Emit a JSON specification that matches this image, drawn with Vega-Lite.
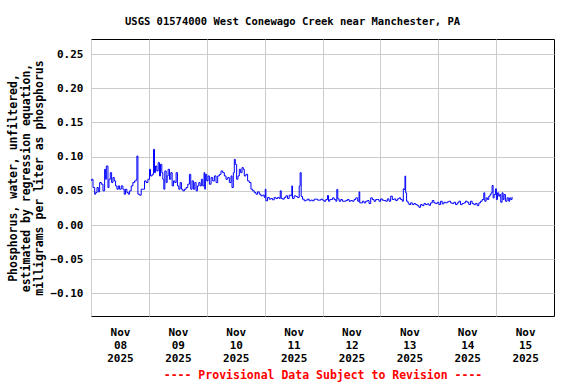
{
  "$schema": "https://vega.github.io/schema/vega-lite/v6.json",
  "width": 463,
  "height": 277,
  "autosize": {"type": "none"},
  "padding": {"left": 91, "top": 39, "right": 22, "bottom": 68},
  "background": "white",
  "title": {
    "text": "USGS 01574000 West Conewago Creek near Manchester, PA",
    "font": "DejaVu Sans Mono",
    "fontSize": 10.5,
    "fontWeight": "bold",
    "color": "black",
    "anchor": "middle",
    "dx": -30,
    "offset": 12
  },
  "config": {
    "view": {"stroke": "black", "strokeWidth": 1},
    "axis": {
      "labelFont": "DejaVu Sans Mono",
      "labelFontWeight": "bold",
      "labelFontSize": 11,
      "labelColor": "black",
      "titleFont": "DejaVu Sans Mono",
      "titleFontWeight": "bold",
      "titleFontSize": 11.5,
      "titleColor": "black",
      "gridColor": "#cccccc",
      "gridWidth": 1,
      "gridOpacity": 1,
      "domain": false,
      "ticks": false
    }
  },
  "data": {
    "values": [
      {"t": "2025-11-08T00:00", "v": 0.065},
      {"t": "2025-11-08T00:17", "v": 0.0669},
      {"t": "2025-11-08T00:50", "v": 0.0548},
      {"t": "2025-11-08T01:31", "v": 0.0451},
      {"t": "2025-11-08T01:56", "v": 0.0475},
      {"t": "2025-11-08T02:29", "v": 0.0548},
      {"t": "2025-11-08T03:02", "v": 0.0485},
      {"t": "2025-11-08T03:35", "v": 0.0621},
      {"t": "2025-11-08T04:16", "v": 0.0597},
      {"t": "2025-11-08T04:58", "v": 0.05},
      {"t": "2025-11-08T05:39", "v": 0.0815},
      {"t": "2025-11-08T06:04", "v": 0.0669},
      {"t": "2025-11-08T06:21", "v": 0.0863},
      {"t": "2025-11-08T07:02", "v": 0.0548},
      {"t": "2025-11-08T07:27", "v": 0.0669},
      {"t": "2025-11-08T08:00", "v": 0.0766},
      {"t": "2025-11-08T08:33", "v": 0.0621},
      {"t": "2025-11-08T09:06", "v": 0.0694},
      {"t": "2025-11-08T09:39", "v": 0.0645},
      {"t": "2025-11-08T10:12", "v": 0.0572},
      {"t": "2025-11-08T10:45", "v": 0.0524},
      {"t": "2025-11-08T11:18", "v": 0.0572},
      {"t": "2025-11-08T11:51", "v": 0.0524},
      {"t": "2025-11-08T12:33", "v": 0.0572},
      {"t": "2025-11-08T13:14", "v": 0.0524},
      {"t": "2025-11-08T13:47", "v": 0.0451},
      {"t": "2025-11-08T14:20", "v": 0.0524},
      {"t": "2025-11-08T14:53", "v": 0.0475},
      {"t": "2025-11-08T15:27", "v": 0.0451},
      {"t": "2025-11-08T16:00", "v": 0.05},
      {"t": "2025-11-08T16:41", "v": 0.0572},
      {"t": "2025-11-08T17:22", "v": 0.0621},
      {"t": "2025-11-08T18:04", "v": 0.0645},
      {"t": "2025-11-08T18:45", "v": 0.0669},
      {"t": "2025-11-08T19:02", "v": 0.1009},
      {"t": "2025-11-08T19:27", "v": 0.0451},
      {"t": "2025-11-08T20:08", "v": 0.0437},
      {"t": "2025-11-08T20:49", "v": 0.0524},
      {"t": "2025-11-08T21:31", "v": 0.0524},
      {"t": "2025-11-08T22:12", "v": 0.0645},
      {"t": "2025-11-08T22:53", "v": 0.0621},
      {"t": "2025-11-08T23:35", "v": 0.0669},
      {"t": "2025-11-09T00:16", "v": 0.0815},
      {"t": "2025-11-09T00:41", "v": 0.0718},
      {"t": "2025-11-09T01:22", "v": 0.0742},
      {"t": "2025-11-09T01:56", "v": 0.1106},
      {"t": "2025-11-09T02:20", "v": 0.0766},
      {"t": "2025-11-09T02:45", "v": 0.0863},
      {"t": "2025-11-09T03:18", "v": 0.0791},
      {"t": "2025-11-09T03:51", "v": 0.0912},
      {"t": "2025-11-09T04:24", "v": 0.0718},
      {"t": "2025-11-09T04:49", "v": 0.0888},
      {"t": "2025-11-09T05:22", "v": 0.0766},
      {"t": "2025-11-09T05:47", "v": 0.0669},
      {"t": "2025-11-09T06:12", "v": 0.0524},
      {"t": "2025-11-09T06:37", "v": 0.0791},
      {"t": "2025-11-09T07:10", "v": 0.0621},
      {"t": "2025-11-09T07:35", "v": 0.0718},
      {"t": "2025-11-09T07:59", "v": 0.0815},
      {"t": "2025-11-09T08:33", "v": 0.0669},
      {"t": "2025-11-09T09:06", "v": 0.0766},
      {"t": "2025-11-09T09:39", "v": 0.0572},
      {"t": "2025-11-09T10:12", "v": 0.0645},
      {"t": "2025-11-09T10:45", "v": 0.0621},
      {"t": "2025-11-09T11:18", "v": 0.0766},
      {"t": "2025-11-09T11:51", "v": 0.0572},
      {"t": "2025-11-09T12:24", "v": 0.0524},
      {"t": "2025-11-09T12:57", "v": 0.0621},
      {"t": "2025-11-09T13:30", "v": 0.0524},
      {"t": "2025-11-09T14:04", "v": 0.05},
      {"t": "2025-11-09T14:45", "v": 0.0524},
      {"t": "2025-11-09T15:26", "v": 0.0548},
      {"t": "2025-11-09T16:08", "v": 0.0597},
      {"t": "2025-11-09T16:49", "v": 0.0742},
      {"t": "2025-11-09T17:22", "v": 0.0524},
      {"t": "2025-11-09T17:55", "v": 0.0645},
      {"t": "2025-11-09T18:28", "v": 0.0524},
      {"t": "2025-11-09T19:02", "v": 0.0621},
      {"t": "2025-11-09T19:35", "v": 0.05},
      {"t": "2025-11-09T20:08", "v": 0.0572},
      {"t": "2025-11-09T20:41", "v": 0.0621},
      {"t": "2025-11-09T21:14", "v": 0.0572},
      {"t": "2025-11-09T21:47", "v": 0.0669},
      {"t": "2025-11-09T22:20", "v": 0.0572},
      {"t": "2025-11-09T22:53", "v": 0.0766},
      {"t": "2025-11-09T23:10", "v": 0.0524},
      {"t": "2025-11-09T23:26", "v": 0.0742},
      {"t": "2025-11-09T23:59", "v": 0.0645},
      {"t": "2025-11-10T00:32", "v": 0.0718},
      {"t": "2025-11-10T01:05", "v": 0.0597},
      {"t": "2025-11-10T01:47", "v": 0.0694},
      {"t": "2025-11-10T02:28", "v": 0.0645},
      {"t": "2025-11-10T03:10", "v": 0.0718},
      {"t": "2025-11-10T03:51", "v": 0.0621},
      {"t": "2025-11-10T04:32", "v": 0.0718},
      {"t": "2025-11-10T05:14", "v": 0.0742},
      {"t": "2025-11-10T05:55", "v": 0.0791},
      {"t": "2025-11-10T06:37", "v": 0.0766},
      {"t": "2025-11-10T07:18", "v": 0.0718},
      {"t": "2025-11-10T07:59", "v": 0.0669},
      {"t": "2025-11-10T08:41", "v": 0.0694},
      {"t": "2025-11-10T09:22", "v": 0.0621},
      {"t": "2025-11-10T10:04", "v": 0.0718},
      {"t": "2025-11-10T10:28", "v": 0.0548},
      {"t": "2025-11-10T11:01", "v": 0.0766},
      {"t": "2025-11-10T11:26", "v": 0.096},
      {"t": "2025-11-10T11:51", "v": 0.0888},
      {"t": "2025-11-10T12:24", "v": 0.0669},
      {"t": "2025-11-10T12:57", "v": 0.0718},
      {"t": "2025-11-10T13:30", "v": 0.0815},
      {"t": "2025-11-10T14:03", "v": 0.0766},
      {"t": "2025-11-10T14:37", "v": 0.0839},
      {"t": "2025-11-10T15:10", "v": 0.0815},
      {"t": "2025-11-10T15:34", "v": 0.0718},
      {"t": "2025-11-10T16:16", "v": 0.0742},
      {"t": "2025-11-10T16:57", "v": 0.0645},
      {"t": "2025-11-10T17:38", "v": 0.0621},
      {"t": "2025-11-10T18:20", "v": 0.0524},
      {"t": "2025-11-10T19:01", "v": 0.05},
      {"t": "2025-11-10T19:43", "v": 0.0475},
      {"t": "2025-11-10T20:24", "v": 0.0451},
      {"t": "2025-11-10T21:05", "v": 0.0485},
      {"t": "2025-11-10T21:47", "v": 0.0451},
      {"t": "2025-11-10T22:28", "v": 0.0427},
      {"t": "2025-11-10T23:10", "v": 0.0437},
      {"t": "2025-11-10T23:51", "v": 0.0403},
      {"t": "2025-11-11T00:16", "v": 0.0524},
      {"t": "2025-11-11T00:32", "v": 0.0354},
      {"t": "2025-11-11T01:13", "v": 0.0403},
      {"t": "2025-11-11T01:55", "v": 0.0378},
      {"t": "2025-11-11T02:36", "v": 0.0388},
      {"t": "2025-11-11T03:17", "v": 0.0369},
      {"t": "2025-11-11T03:59", "v": 0.0403},
      {"t": "2025-11-11T04:40", "v": 0.0388},
      {"t": "2025-11-11T05:22", "v": 0.0403},
      {"t": "2025-11-11T06:03", "v": 0.0388},
      {"t": "2025-11-11T06:28", "v": 0.05},
      {"t": "2025-11-11T06:53", "v": 0.0388},
      {"t": "2025-11-11T07:26", "v": 0.0378},
      {"t": "2025-11-11T08:07", "v": 0.0403},
      {"t": "2025-11-11T08:49", "v": 0.0427},
      {"t": "2025-11-11T09:30", "v": 0.0388},
      {"t": "2025-11-11T10:11", "v": 0.0437},
      {"t": "2025-11-11T10:53", "v": 0.0427},
      {"t": "2025-11-11T11:17", "v": 0.0572},
      {"t": "2025-11-11T11:34", "v": 0.0388},
      {"t": "2025-11-11T12:15", "v": 0.0427},
      {"t": "2025-11-11T12:57", "v": 0.0417},
      {"t": "2025-11-11T13:38", "v": 0.0403},
      {"t": "2025-11-11T14:20", "v": 0.0572},
      {"t": "2025-11-11T14:44", "v": 0.0766},
      {"t": "2025-11-11T15:09", "v": 0.0417},
      {"t": "2025-11-11T15:42", "v": 0.0378},
      {"t": "2025-11-11T16:24", "v": 0.0354},
      {"t": "2025-11-11T17:05", "v": 0.0364},
      {"t": "2025-11-11T17:46", "v": 0.0378},
      {"t": "2025-11-11T18:28", "v": 0.0354},
      {"t": "2025-11-11T19:09", "v": 0.0364},
      {"t": "2025-11-11T19:51", "v": 0.0354},
      {"t": "2025-11-11T20:32", "v": 0.0378},
      {"t": "2025-11-11T21:13", "v": 0.0378},
      {"t": "2025-11-11T21:55", "v": 0.0364},
      {"t": "2025-11-11T22:36", "v": 0.0364},
      {"t": "2025-11-11T23:18", "v": 0.0378},
      {"t": "2025-11-11T23:59", "v": 0.0364},
      {"t": "2025-11-12T00:41", "v": 0.0348},
      {"t": "2025-11-12T01:23", "v": 0.0373},
      {"t": "2025-11-12T02:04", "v": 0.0431},
      {"t": "2025-11-12T02:29", "v": 0.0348},
      {"t": "2025-11-12T03:02", "v": 0.0373},
      {"t": "2025-11-12T03:35", "v": 0.0373},
      {"t": "2025-11-12T04:08", "v": 0.0397},
      {"t": "2025-11-12T04:50", "v": 0.0373},
      {"t": "2025-11-12T05:31", "v": 0.0348},
      {"t": "2025-11-12T05:56", "v": 0.052},
      {"t": "2025-11-12T06:20", "v": 0.0382},
      {"t": "2025-11-12T06:54", "v": 0.0348},
      {"t": "2025-11-12T07:35", "v": 0.0373},
      {"t": "2025-11-12T08:16", "v": 0.0348},
      {"t": "2025-11-12T08:58", "v": 0.0348},
      {"t": "2025-11-12T09:39", "v": 0.0358},
      {"t": "2025-11-12T10:20", "v": 0.0373},
      {"t": "2025-11-12T11:02", "v": 0.0348},
      {"t": "2025-11-12T11:43", "v": 0.0358},
      {"t": "2025-11-12T12:25", "v": 0.0348},
      {"t": "2025-11-12T13:06", "v": 0.0373},
      {"t": "2025-11-12T13:47", "v": 0.0397},
      {"t": "2025-11-12T14:37", "v": 0.0348},
      {"t": "2025-11-12T15:10", "v": 0.0485},
      {"t": "2025-11-12T15:27", "v": 0.0324},
      {"t": "2025-11-12T16:00", "v": 0.0324},
      {"t": "2025-11-12T16:33", "v": 0.0348},
      {"t": "2025-11-12T17:14", "v": 0.0324},
      {"t": "2025-11-12T17:56", "v": 0.0348},
      {"t": "2025-11-12T18:37", "v": 0.0358},
      {"t": "2025-11-12T19:18", "v": 0.0314},
      {"t": "2025-11-12T20:00", "v": 0.0397},
      {"t": "2025-11-12T20:41", "v": 0.0373},
      {"t": "2025-11-12T21:22", "v": 0.0348},
      {"t": "2025-11-12T22:04", "v": 0.0373},
      {"t": "2025-11-12T22:45", "v": 0.0373},
      {"t": "2025-11-12T23:26", "v": 0.0348},
      {"t": "2025-11-13T00:08", "v": 0.0382},
      {"t": "2025-11-13T00:49", "v": 0.0363},
      {"t": "2025-11-13T01:31", "v": 0.0358},
      {"t": "2025-11-13T02:12", "v": 0.0348},
      {"t": "2025-11-13T02:53", "v": 0.0382},
      {"t": "2025-11-13T03:35", "v": 0.0348},
      {"t": "2025-11-13T04:16", "v": 0.0422},
      {"t": "2025-11-13T04:58", "v": 0.0373},
      {"t": "2025-11-13T05:39", "v": 0.0382},
      {"t": "2025-11-13T06:20", "v": 0.0358},
      {"t": "2025-11-13T07:02", "v": 0.0382},
      {"t": "2025-11-13T07:43", "v": 0.0397},
      {"t": "2025-11-13T08:25", "v": 0.0373},
      {"t": "2025-11-13T09:06", "v": 0.0348},
      {"t": "2025-11-13T09:31", "v": 0.0529},
      {"t": "2025-11-13T09:55", "v": 0.052},
      {"t": "2025-11-13T10:12", "v": 0.0716},
      {"t": "2025-11-13T10:29", "v": 0.0471},
      {"t": "2025-11-13T10:53", "v": 0.0348},
      {"t": "2025-11-13T11:26", "v": 0.0324},
      {"t": "2025-11-13T11:51", "v": 0.0299},
      {"t": "2025-11-13T12:32", "v": 0.0324},
      {"t": "2025-11-13T13:14", "v": 0.0299},
      {"t": "2025-11-13T13:55", "v": 0.0314},
      {"t": "2025-11-13T14:37", "v": 0.0299},
      {"t": "2025-11-13T15:18", "v": 0.0284},
      {"t": "2025-11-13T15:59", "v": 0.026},
      {"t": "2025-11-13T16:41", "v": 0.0299},
      {"t": "2025-11-13T17:22", "v": 0.0284},
      {"t": "2025-11-13T18:04", "v": 0.0314},
      {"t": "2025-11-13T18:45", "v": 0.0299},
      {"t": "2025-11-13T19:26", "v": 0.0309},
      {"t": "2025-11-13T20:08", "v": 0.0289},
      {"t": "2025-11-13T20:49", "v": 0.0324},
      {"t": "2025-11-13T21:31", "v": 0.0358},
      {"t": "2025-11-13T22:12", "v": 0.0324},
      {"t": "2025-11-13T22:53", "v": 0.0314},
      {"t": "2025-11-13T23:35", "v": 0.0333},
      {"t": "2025-11-14T00:16", "v": 0.0299},
      {"t": "2025-11-14T00:58", "v": 0.0348},
      {"t": "2025-11-14T01:39", "v": 0.0309},
      {"t": "2025-11-14T02:20", "v": 0.0333},
      {"t": "2025-11-14T03:02", "v": 0.0324},
      {"t": "2025-11-14T03:43", "v": 0.0338},
      {"t": "2025-11-14T04:25", "v": 0.0348},
      {"t": "2025-11-14T05:06", "v": 0.0324},
      {"t": "2025-11-14T05:47", "v": 0.0314},
      {"t": "2025-11-14T06:28", "v": 0.0333},
      {"t": "2025-11-14T07:10", "v": 0.0299},
      {"t": "2025-11-14T07:51", "v": 0.0324},
      {"t": "2025-11-14T08:32", "v": 0.0348},
      {"t": "2025-11-14T09:14", "v": 0.0299},
      {"t": "2025-11-14T09:55", "v": 0.0314},
      {"t": "2025-11-14T10:37", "v": 0.0324},
      {"t": "2025-11-14T11:18", "v": 0.0348},
      {"t": "2025-11-14T11:59", "v": 0.0333},
      {"t": "2025-11-14T12:41", "v": 0.0299},
      {"t": "2025-11-14T13:22", "v": 0.0348},
      {"t": "2025-11-14T14:04", "v": 0.0314},
      {"t": "2025-11-14T14:45", "v": 0.0299},
      {"t": "2025-11-14T15:26", "v": 0.0314},
      {"t": "2025-11-14T16:08", "v": 0.0284},
      {"t": "2025-11-14T16:49", "v": 0.0324},
      {"t": "2025-11-14T17:31", "v": 0.0348},
      {"t": "2025-11-14T18:12", "v": 0.0373},
      {"t": "2025-11-14T18:53", "v": 0.0471},
      {"t": "2025-11-14T19:18", "v": 0.0348},
      {"t": "2025-11-14T19:51", "v": 0.0397},
      {"t": "2025-11-14T20:24", "v": 0.0373},
      {"t": "2025-11-14T20:57", "v": 0.0422},
      {"t": "2025-11-14T21:30", "v": 0.0446},
      {"t": "2025-11-14T21:55", "v": 0.0471},
      {"t": "2025-11-14T22:20", "v": 0.0578},
      {"t": "2025-11-14T22:45", "v": 0.0397},
      {"t": "2025-11-14T23:10", "v": 0.0446},
      {"t": "2025-11-14T23:43", "v": 0.0529},
      {"t": "2025-11-15T00:07", "v": 0.0373},
      {"t": "2025-11-15T00:32", "v": 0.0471},
      {"t": "2025-11-15T01:05", "v": 0.0422},
      {"t": "2025-11-15T01:30", "v": 0.0446},
      {"t": "2025-11-15T01:55", "v": 0.0333},
      {"t": "2025-11-15T02:28", "v": 0.0471},
      {"t": "2025-11-15T02:53", "v": 0.0373},
      {"t": "2025-11-15T03:17", "v": 0.0446},
      {"t": "2025-11-15T03:51", "v": 0.0348},
      {"t": "2025-11-15T04:32", "v": 0.0397},
      {"t": "2025-11-15T05:14", "v": 0.0348},
      {"t": "2025-11-15T05:38", "v": 0.0397},
      {"t": "2025-11-15T06:03", "v": 0.0373},
      {"t": "2025-11-15T06:36", "v": 0.0412}
    ]
  },
  "mark": {"type": "line", "color": "#0000ff", "strokeWidth": 1, "interpolate": "step-after"},
  "encoding": {
    "x": {
      "field": "t",
      "type": "temporal",
      "scale": {
        "domain": [
          {"year": 2025, "month": 11, "date": 8},
          {"year": 2025, "month": 11, "date": 16}
        ],
        "nice": false
      },
      "axis": {
        "values": [
          {"year": 2025, "month": 11, "date": 8},
          {"year": 2025, "month": 11, "date": 9},
          {"year": 2025, "month": 11, "date": 10},
          {"year": 2025, "month": 11, "date": 11},
          {"year": 2025, "month": 11, "date": 12},
          {"year": 2025, "month": 11, "date": 13},
          {"year": 2025, "month": 11, "date": 14},
          {"year": 2025, "month": 11, "date": 15}
        ],
        "labelExpr": "[timeFormat(datum.value, '%b'), timeFormat(datum.value, '%d'), timeFormat(datum.value, '%Y')]",
        "labelOffset": 29,
        "labelAlign": "center",
        "labelBaseline": "top",
        "labelPadding": 10,
        "labelLineHeight": 13,
        "labelFlush": false,
        "labelOverlap": false,
        "labelBound": false,
        "grid": true,
        "title": "---- Provisional Data Subject to Revision ----",
        "titleColor": "#ff0000",
        "titlePadding": 6
      }
    },
    "y": {
      "field": "v",
      "type": "quantitative",
      "scale": {"domain": [-0.133, 0.272], "nice": false, "zero": false},
      "axis": {
        "values": [-0.1, -0.05, 0, 0.05, 0.1, 0.15, 0.2, 0.25],
        "format": ".2f",
        "labelPadding": 8,
        "grid": true,
        "title": ["Phosphorus, water, unfiltered,", "estimated by regression equation,", "milligrams per liter as phosphorus"],
        "titleLineHeight": 13,
        "titlePadding": 5
      }
    }
  }
}
